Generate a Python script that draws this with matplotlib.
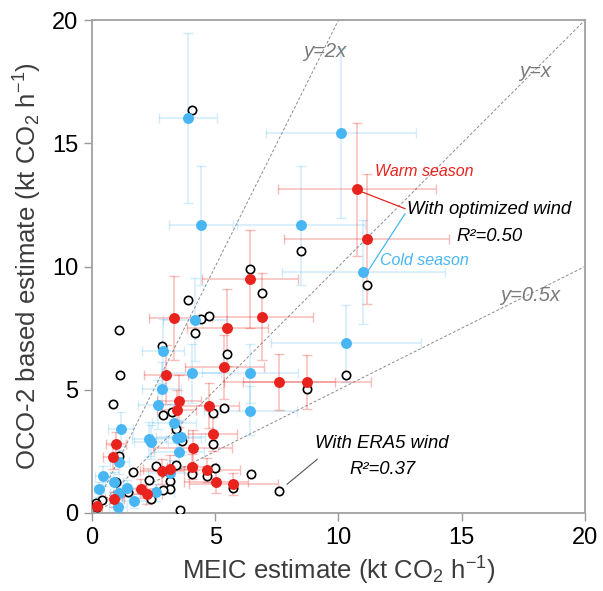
import numpy as np
import matplotlib
matplotlib.use("Agg")
import matplotlib.pyplot as plt

plt.rcParams['font.family'] = ['Liberation Sans', 'DejaVu Sans']
plt.rcParams['mathtext.fontset'] = 'custom'
plt.rcParams['mathtext.rm'] = 'Liberation Sans'
plt.rcParams['mathtext.it'] = 'Liberation Sans:italic'

# warm season, optimized wind
warm_x = [10.74, 11.14, 6.41, 6.91, 3.33, 5.49, 5.36, 3.00, 7.59, 8.72, 3.54, 4.76, 3.43, 4.90,
          0.97, 0.84, 4.09, 4.05, 3.18, 2.84, 4.65, 5.02, 5.73, 1.98, 2.22, 0.91, 0.22]
warm_y = [13.13, 11.12, 9.50, 7.97, 7.91, 7.52, 5.91, 5.61, 5.31, 5.31, 4.55, 4.36, 4.19, 3.20,
          2.79, 2.27, 2.65, 1.88, 1.79, 1.69, 1.75, 1.26, 1.16, 0.99, 0.76, 0.56, 0.30]
warm_xerr = [3.2, 3.35, 1.95, 2.05, 1.0, 1.65, 1.6, 0.9, 2.25, 2.6, 0.9, 1.2, 0.8, 1.0,
             0.4, 0.4, 1.6, 1.0, 1.1, 0.9, 1.35, 1.3, 1.8, 0.6, 0.6, 0.4, 0.2]
warm_yerr = [2.7, 2.65, 2.0, 1.75, 1.7, 1.55, 1.3, 1.2, 1.15, 1.1, 1.05, 0.9, 0.8, 0.7,
             0.5, 0.5, 0.7, 0.5, 0.55, 0.5, 0.5, 0.45, 0.45, 0.4, 0.4, 0.3, 0.2]

# cold season, optimized wind
cold_x = [3.91, 10.09, 4.41, 8.47, 11.01, 10.30, 4.19, 2.87, 4.05, 6.42, 2.83, 2.67, 6.43, 1.16, 3.33,
          2.31, 2.39, 3.43, 3.60, 3.53, 1.11, 0.43, 0.89, 0.27, 1.41, 1.11, 1.05, 1.70, 2.61, 3.16]
cold_y = [16.03, 15.42, 11.67, 11.67, 9.77, 6.88, 7.85, 6.56, 5.66, 5.66, 5.03, 4.39, 4.15, 3.40, 3.64,
          3.00, 2.88, 3.05, 3.07, 2.46, 2.07, 1.50, 1.25, 0.96, 1.00, 0.82, 0.23, 0.49, 0.84, 1.64]
cold_xerr = [1.18, 3.05, 1.3, 2.6, 3.3, 3.05, 1.3, 0.86, 1.2, 1.95, 0.8, 0.8, 1.9, 0.5, 0.9,
             0.7, 0.7, 1.0, 1.0, 1.0, 0.4, 0.3, 0.35, 0.2, 0.45, 0.4, 0.35, 0.5, 0.7, 0.9]
cold_yerr = [3.45, 3.45, 2.4, 2.4, 2.1, 1.55, 1.7, 1.3, 1.2, 1.2, 1.1, 1.0, 1.0, 0.7, 0.8,
             0.7, 0.7, 0.7, 0.7, 0.6, 0.5, 0.4, 0.4, 0.3, 0.35, 0.3, 0.2, 0.3, 0.35, 0.5]

# ERA5 wind
era5_x = [4.04, 8.47, 11.14, 10.30, 8.72, 7.60, 6.41, 6.91, 3.91, 4.41, 4.75, 4.19, 1.08, 2.84, 5.49,
          1.12, 0.87, 5.36, 2.86, 3.25, 4.90, 3.42, 3.64, 4.92, 1.09, 1.68, 2.61, 3.40, 4.06, 4.65,
          4.98, 6.44, 5.73, 2.30, 3.18, 3.16, 2.87, 2.39, 0.97, 1.44, 0.42, 0.17, 3.55, 0.22]
era5_y = [16.34, 10.62, 9.24, 5.61, 5.04, 0.90, 9.91, 8.93, 8.65, 7.89, 7.98, 7.29, 7.44, 6.76, 6.45,
          5.61, 4.43, 4.28, 3.99, 4.11, 4.04, 3.42, 2.93, 2.79, 2.30, 1.67, 1.90, 1.96, 1.60, 1.49,
          1.82, 1.57, 1.00, 1.35, 1.31, 0.97, 0.92, 0.56, 1.24, 0.85, 0.52, 0.40, 0.11, 0.25]

red = '#e8231e'
blue = '#48b6f2'
grey = '#7a7a7a'

fig = plt.figure(figsize=(6.03, 5.91), dpi=100)
ax = fig.add_axes([0.1526, 0.132, 0.8174, 0.834])

# reference lines
xx = np.array([0, 20])
for k in [2, 1, 0.5]:
    ax.plot(xx, k * xx, ls=(0, (3, 2)), color='#8c8c8c', lw=0.7, zorder=1)

# error bars
ax.errorbar(cold_x, cold_y, xerr=cold_xerr, yerr=cold_yerr, fmt='none',
            ecolor=blue, alpha=0.25, elinewidth=1.1, capsize=3.5, zorder=2)
ax.errorbar(warm_x, warm_y, xerr=warm_xerr, yerr=warm_yerr, fmt='none',
            ecolor=red, alpha=0.3, elinewidth=1.1, capsize=3.5, zorder=2)

ax.scatter(era5_x, era5_y, s=36, facecolor='white', edgecolor='black', lw=1.2, zorder=3)
ax.scatter(cold_x, cold_y, s=62, color=blue, lw=0, zorder=4)
ax.scatter(warm_x, warm_y, s=62, color=red, lw=0, zorder=5)

# annotations
ax.text(9.44, 18.71, 'y=2x', color=grey, fontsize=14.5, style='italic', ha='center', va='center')
ax.text(18.0, 17.9, 'y=x', color=grey, fontsize=14.5, style='italic', ha='center', va='center')
ax.text(17.8, 8.82, 'y=0.5x', color=grey, fontsize=14.5, style='italic', ha='center', va='center')

ax.plot([10.87, 12.70], [13.06, 12.35], color=red, lw=0.9, zorder=6)
ax.plot([12.70, 11.21], [12.14, 9.84], color=blue, lw=0.9, zorder=6)
ax.text(11.48, 13.85, 'Warm season', color=red, fontsize=11.5, style='italic', va='center')
ax.text(16.11, 12.3, 'With optimized wind', color='black', fontsize=13.3, style='italic',
        ha='center', va='center')
ax.text(16.11, 11.22, 'R²=0.50', color='black', fontsize=13.3, style='italic', ha='center', va='center')
ax.text(11.68, 10.24, 'Cold season', color=blue, fontsize=11.5, style='italic', va='center')

ax.plot([7.92, 9.14], [1.17, 2.18], color='#555555', lw=0.8, zorder=6)
ax.text(11.74, 2.82, 'With ERA5 wind', color='black', fontsize=13.3, style='italic', ha='center', va='center')
ax.text(11.78, 1.78, 'R²=0.37', color='black', fontsize=13.3, style='italic', ha='center', va='center')

ax.set_xlim(0, 20)
ax.set_ylim(0, 20)
ax.set_xticks([0, 5, 10, 15, 20])
ax.set_yticks([0, 5, 10, 15, 20])
ax.tick_params(labelsize=17, length=6, width=1, color='#999999', pad=4)
for s in ax.spines.values():
    s.set_color('#a0a0a0')
    s.set_linewidth(1.3)

ax.set_xlabel('MEIC estimate (kt CO$_2$ h$^{−1}$)', fontsize=18.5, color='#3c3c3c', labelpad=4)
ax.set_ylabel('OCO-2 based estimate (kt CO$_2$ h$^{−1}$)', fontsize=18.5, color='#3c3c3c', labelpad=6)

fig.savefig('out.png', dpi=100)
